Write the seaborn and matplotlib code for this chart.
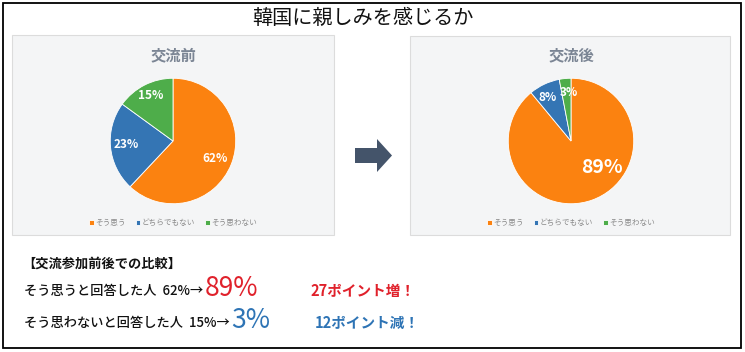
import matplotlib
matplotlib.use("Agg")
import matplotlib.pyplot as plt
import seaborn as sns
from matplotlib.patches import Rectangle, Polygon

sns.set_theme(style="white")
plt.rcParams['font.family'] = ['Noto Sans CJK JP', 'DejaVu Sans']

# ---- data ----
title = "韓国に親しみを感じるか"
categories = ["そう思う", "どちらでもない", "そう思わない"]
panel_titles = ["交流前", "交流後"]
before = [62, 23, 15]
after = [89, 8, 3]
summary_head = "【交流参加前後での比較】"
row_labels = ["そう思うと回答した人", "そう思わないと回答した人"]
row_from = [62, 15]
row_to = [89, 3]
row_delta = ["27ポイント増！", "12ポイント減！"]

colors = sns.color_palette(["#fb8210", "#3475b4", "#4ead4a"])
W, H = 745, 352
fig = plt.figure(figsize=(W / 100, H / 100), dpi=100)
fig.patch.set_facecolor("white")

# background axes in pixel coordinates
bg = fig.add_axes([0, 0, 1, 1])
bg.set_xlim(0, W)
bg.set_ylim(H, 0)
bg.axis("off")
bg.add_patch(Rectangle((3, 3), 738, 345, fill=False, edgecolor="black", lw=1.3))

bg.text(363, 18, title, ha="center", va="center", fontsize=14.5, color="#111111")

panels = [(12, 35, 322, 200), (410, 36, 320, 199)]
for (x, y, w, h) in panels:
    bg.add_patch(Rectangle((x, y), w, h, facecolor="#f4f5f6", edgecolor="#dcdcdc", lw=0.8))

# arrow
bg.add_patch(Polygon([(355, 148), (377, 148), (377, 139), (392, 155.5),
                      (377, 172), (377, 163), (355, 163)],
                     closed=True, facecolor="#44546a", edgecolor="none"))

# pies
centers = [(173, 141), (571, 141)]
R = 64
label_pos = [
    [(0.67, -0.28), (-0.75, -0.06), (-0.36, 0.72)],
    [(0.49, -0.42), (-0.37, 0.70), (-0.03, 0.78)],
]
label_size = [[8.5, 8.5, 8.5], [14, 8.5, 8.5]]
datasets = [before, after]
for i, (cx, cy) in enumerate(centers):
    ax = fig.add_axes([(cx - R) / W, (H - cy - R) / H, 2 * R / W, 2 * R / H])
    wedges, _ = ax.pie(datasets[i], colors=colors, startangle=90, counterclock=False,
                       radius=1, wedgeprops=dict(linewidth=0.6, edgecolor="white"))
    ax.set_xlim(-1.02, 1.02)
    ax.set_ylim(-1.02, 1.02)
    ax.set_aspect("equal")
    ax.axis("off")
    for v, (px, py), fs in zip(datasets[i], label_pos[i], label_size[i]):
        ax.text(px, py, f"{v}%", ha="center", va="center", color="white",
                fontsize=fs, fontweight="bold")
    # panel title
    bg.text(cx, 55, panel_titles[i], ha="center", va="center", fontsize=11,
            fontweight="bold", color="#7b8594")
    leg = fig.legend(wedges, categories, loc="center",
                     bbox_to_anchor=(cx / W, 1 - 223 / H), ncol=3, frameon=False,
                     fontsize=5.5, handlelength=0.6, handleheight=0.6,
                     handletextpad=0.2, columnspacing=1.3, borderpad=0)
    for t in leg.get_texts():
        t.set_color("#8a8a8a")

# summary text
bg.text(22, 264, summary_head, ha="left", va="center", fontsize=9.5,
        fontweight="bold", color="#111111")
row_y = [291, 323]
delta_x = [310, 315]
row_col = ["#e0212b", "#2e74b5"]
fig.canvas.draw()
renderer = fig.canvas.get_renderer()
for k in range(2):
    pre = f"{row_labels[k]}  {row_from[k]}%→"
    t = bg.text(24, row_y[k], pre, ha="left", va="center", fontsize=9.5,
                fontweight="medium", color="#111111")
    x_end = t.get_window_extent(renderer=renderer).x1
    bg.text(x_end + 1, row_y[k] - 2, f"{row_to[k]}%", ha="left", va="center",
            fontsize=19, color=row_col[k])
    bg.text(delta_x[k], row_y[k], row_delta[k], ha="left", va="center",
            fontsize=10.5, fontweight="bold", color=row_col[k])

fig.savefig("out.png", dpi=100)
